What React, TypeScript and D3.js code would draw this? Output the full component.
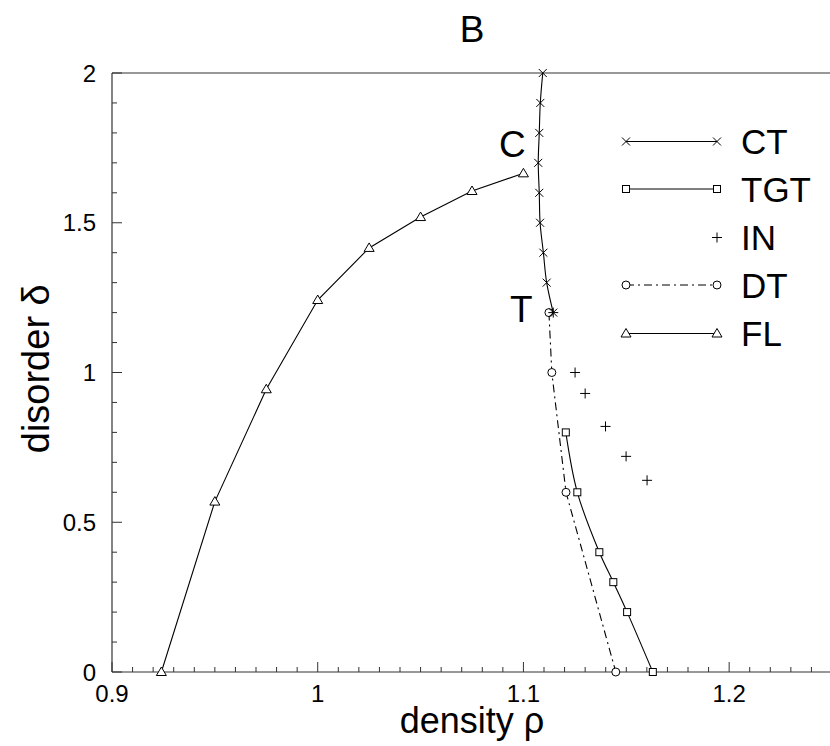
import * as d3 from "d3";

// phase diagram data
const ctDelta = [2.0, 1.9, 1.8, 1.7, 1.6, 1.5, 1.4, 1.3, 1.2];
const ctRho = [1.1094, 1.1082, 1.1077, 1.1072, 1.1077, 1.1081, 1.1097, 1.1113, 1.1145];

const tgtDelta = [0.8, 0.6, 0.4, 0.3, 0.2, 0];
const tgtRho = [1.1206, 1.1262, 1.1369, 1.1437, 1.1504, 1.1629];

const inDelta = [1.2, 1.0, 0.93, 0.82, 0.72, 0.64];
const inRho = [1.1145, 1.1251, 1.13, 1.1399, 1.1499, 1.1601];

const dtDelta = [1.2, 1.0, 0.6, 0];
const dtRho = [1.1124, 1.1138, 1.1207, 1.1449];

const flDelta = [0, 0.569, 0.944, 1.242, 1.416, 1.519, 1.606, 1.665];
const flRho = [0.924, 0.95, 0.975, 1.0, 1.025, 1.05, 1.075, 1.1];

const xTicks = [0.9, 1, 1.1, 1.2];
const yTicks = [0, 0.5, 1, 1.5, 2];
const legendNames = ["CT", "TGT", "IN", "DT", "FL"];

type Kind = "x" | "sq" | "plus" | "circ" | "tri";

const W = 830;
const H = 746;
const FONT = "'Liberation Sans', Arial, Helvetica, sans-serif";

const x = d3.scaleLinear().domain([0.9, 1.25]).range([112, 832]);
const y = d3.scaleLinear().domain([0, 2]).range([672, 73]);

function Marker({ kind, cx, cy }: { kind: Kind; cx: number; cy: number }) {
  const s = { stroke: "#000", strokeWidth: 1, fill: "none" };
  if (kind === "x")
    return <path d={`M${cx - 4},${cy - 4}L${cx + 4},${cy + 4}M${cx - 4},${cy + 4}L${cx + 4},${cy - 4}`} {...s} />;
  if (kind === "plus")
    return <path d={`M${cx - 5},${cy}L${cx + 5},${cy}M${cx},${cy - 5}L${cx},${cy + 5}`} {...s} />;
  if (kind === "sq") return <rect x={cx - 3.5} y={cy - 3.5} width={7} height={7} {...s} fill="#fff" />;
  if (kind === "circ") return <circle cx={cx} cy={cy} r={4} {...s} fill="#fff" />;
  return <path d={`M${cx},${cy - 5}L${cx + 5},${cy + 3.5}L${cx - 5},${cy + 3.5}Z`} {...s} fill="#fff" />;
}

function Series({
  rho,
  delta,
  kind,
  line,
  curve,
  dash,
}: {
  rho: number[];
  delta: number[];
  kind: Kind;
  line: boolean;
  curve?: d3.CurveFactory;
  dash?: string;
}) {
  const pts: [number, number][] = rho.map((r, i) => [x(r), y(delta[i])]);
  const gen = d3.line().curve(curve || d3.curveLinear);
  return (
    <g>
      {line && <path d={gen(pts) || ""} fill="none" stroke="#000" strokeWidth={1.1} strokeDasharray={dash} />}
      {pts.map((p, i) => (
        <Marker key={i} kind={kind} cx={p[0]} cy={p[1]} />
      ))}
    </g>
  );
}

export default function App() {
  const minorX = d3.range(90, 126).map((v) => v / 100);
  const minorY = d3.range(0, 21).map((v) => v / 10);
  const legendKinds: Kind[] = ["x", "sq", "plus", "circ", "tri"];
  const legendY = [141.5, 189, 237.5, 285, 333.5];
  const dtDash = "8,4,2,4";

  return (
    <svg width={W} height={H} style={{ position: "absolute", left: 0, top: 0, background: "#fff" }} fontFamily={FONT}>
      <rect width={W} height={H} fill="#fff" />
      {/* frame */}
      <line x1={x(0.9)} x2={W} y1={y(2)} y2={y(2)} stroke="#333" strokeWidth={1.2} />
      <line x1={x(0.9)} x2={W} y1={y(0)} y2={y(0)} stroke="#333" strokeWidth={1.2} />
      <line x1={x(0.9)} x2={x(0.9)} y1={y(0)} y2={y(2)} stroke="#333" strokeWidth={1.2} />

      {/* x ticks */}
      {minorX.map((v) => {
        const major = Math.abs(v * 10 - Math.round(v * 10)) < 1e-6;
        return (
          <line key={v} x1={x(v)} x2={x(v)} y1={y(0)} y2={y(0) - (major ? 10 : 5)} stroke="#333" strokeWidth={1} />
        );
      })}
      {/* y ticks */}
      {minorY.map((v) => {
        const major = Math.abs(v * 2 - Math.round(v * 2)) < 1e-6;
        return (
          <line key={v} x1={x(0.9)} x2={x(0.9) + (major ? 10 : 5)} y1={y(v)} y2={y(v)} stroke="#333" strokeWidth={1} />
        );
      })}
      {xTicks.map((v) => (
        <text key={v} x={x(v)} y={702} fontSize={24} textAnchor="middle">
          {d3.format("~g")(v)}
        </text>
      ))}
      {yTicks.map((v) => (
        <text key={v} x={96} y={y(v) + 8.5} fontSize={24} textAnchor="end">
          {d3.format("~g")(v)}
        </text>
      ))}

      {/* axis labels and title */}
      <text x={472} y={733} fontSize={36} textAnchor="middle">
        density ρ
      </text>
      <text transform={`translate(49,${y(1.0125)}) rotate(-90)`} fontSize={38} textAnchor="middle">
        disorder δ
      </text>
      <text x={472} y={41.5} fontSize={37} textAnchor="middle">
        B
      </text>
      <text x={499} y={157} fontSize={37}>
        C
      </text>
      <text x={510} y={321.5} fontSize={37}>
        T
      </text>

      {/* data */}
      <Series rho={flRho} delta={flDelta} kind="tri" line />
      <Series rho={dtRho} delta={dtDelta} kind="circ" line dash={dtDash} />
      <Series rho={tgtRho} delta={tgtDelta} kind="sq" line curve={d3.curveCatmullRom} />
      <Series rho={ctRho} delta={ctDelta} kind="x" line curve={d3.curveCatmullRom} />
      <Series rho={inRho} delta={inDelta} kind="plus" line={false} />

      {/* legend */}
      {legendNames.map((name, i) => {
        const ly = legendY[i];
        const kind = legendKinds[i];
        return (
          <g key={name}>
            {kind !== "plus" && (
              <line
                x1={626}
                x2={717}
                y1={ly}
                y2={ly}
                stroke="#000"
                strokeWidth={1.1}
                strokeDasharray={kind === "circ" ? dtDash : undefined}
              />
            )}
            {kind !== "plus" && <Marker kind={kind} cx={626} cy={ly} />}
            <Marker kind={kind} cx={717} cy={ly} />
            <text x={741} y={ly + 12.5} fontSize={35}>
              {name}
            </text>
          </g>
        );
      })}
    </svg>
  );
}
